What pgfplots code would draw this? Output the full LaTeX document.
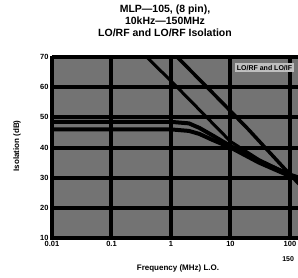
\documentclass[border=0pt]{standalone}
\usepackage{pgfplots}
\pgfplotsset{compat=1.18}
\usepackage{fontspec}
\setmainfont{Liberation Sans}
\begin{document}
\begin{tikzpicture}[x=1pt,y=1pt]
\useasboundingbox (0,0) rectangle (298,277);
\clip (0,0) rectangle (298,277);
\node[align=center,font=\bfseries\fontsize{10.5}{12}\selectfont] at (165,256) {MLP---105, (8 pin),\\10kHz---150MHz\\LO/RF and LO/RF Isolation};
\node[rotate=90,font=\bfseries\fontsize{8}{9}\selectfont] at (17,131) {Isolation (dB)};
\node[font=\bfseries\fontsize{8}{9}\selectfont] at (178,9) {Frequency (MHz) L.O.};
\begin{axis}[
  at={(52pt,39pt)}, anchor=south west,
  scale only axis, width=255.9pt, height=181pt,
  xmode=log, xmin=0.01, xmax=200, ymin=10, ymax=70,
  xtick={0.01,0.1,1,10,100}, xticklabels={0.01,0.1,1,10,100},
  ytick={10,20,30,40,50,60,70},
  /pgf/number format/assume math mode=true,
  ticklabel style={font=\bfseries\fontsize{7.5}{8}\selectfont},
  major tick length=0pt, minor tick num=0,
  xtick style={draw=none}, ytick style={draw=none},
  axis background/.style={fill=black!55},
  grid=major, major grid style={line width=4pt, black},
  axis line style={line width=3pt, black},
  clip=false,
]
\addplot[black, line width=4pt] coordinates {(0.01,48.5) (0.1,48.5) (1,48.5) (2,48) (3,46.5) (5,44) (10,40.5) (30,35.5) (100,31) (200,29)};
\addplot[black, line width=4pt] coordinates {(0.01,46) (0.1,46) (1,46) (2,45.5) (3,44.5) (5,42.5) (10,40) (30,35) (100,30.5) (200,28.5)};
\addplot[black, line width=3pt] coordinates {(0.39,70) (1.08,61.4) (3,52.5) (10,42) (30,36) (100,31) (200,28)};
\addplot[black, line width=3.5pt] coordinates {(1.27,70) (5.9,56.7) (20,46) (112,30) (200,25)};
\node[fill=black!25, inner sep=1.5pt, anchor=west, font=\bfseries\fontsize{7}{8}\selectfont] at (axis cs:12,66.5) {LO/RF and LO/IF};
\end{axis}
\node[anchor=east, font=\bfseries\fontsize{7}{8}\selectfont] at (297.5,18) {150};
\end{tikzpicture}
\end{document}
